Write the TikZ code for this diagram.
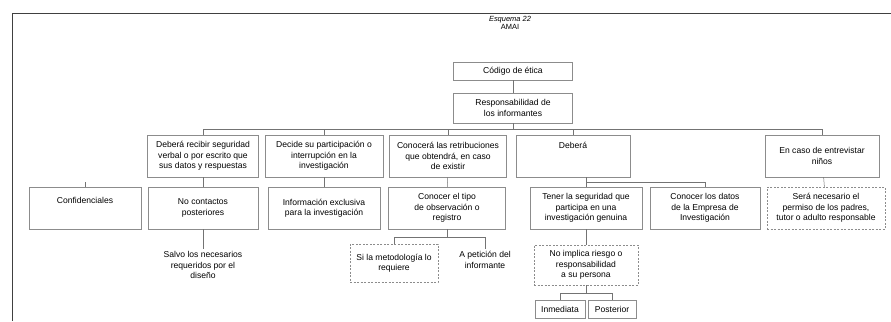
\documentclass[tikz,border=0pt]{standalone}
\usepackage{fontspec}
\setmainfont{Liberation Sans}
\begin{document}
\begin{tikzpicture}[x=1bp,y=-1bp,
        every node/.style={font=\fontsize{8.6}{10.5}\selectfont, align=center, inner sep=2bp},
        caja/.style 2 args={draw=black!45, line width=0.5bp, minimum width=#1, minimum height=#2},
        cajap/.style 2 args={caja={#1}{#2}, dash pattern=on 2bp off 1.5bp},
        sinborde/.style={inner sep=2bp},
        linea/.style={draw=black!55, line width=0.5bp},
        marco/.style={draw=black!75, line width=1bp}]
        \useasboundingbox (0,0) rectangle (891,321);
        \draw[marco] (12,321) -- (12,13) -- (891,13);

        \node[font=\fontsize{7.5}{8.5}\selectfont] (titulo) at (510,23) {\textit{Esquema 22}\\AMAI};
        \node[caja={119bp}{18bp}] (codigo) at (513,71) {Código de ética};
        \node[caja={119bp}{30bp}] (resp) at (513,108) {Responsabilidad de\\los informantes};
        \coordinate (bus1) at (513,129);

        \node[caja={111bp}{42bp}] (recibir) at (203,156) {Deberá recibir seguridad\\verbal o por escrito que\\sus datos y respuestas};
        \node[caja={118bp}{42bp}] (decide) at (324,156) {Decide su participación o\\interrupción en la\\investigación};
        \node[caja={117bp}{42bp}] (conocera) at (448,156) {Conocerá las retribuciones\\que obtendrá, en caso\\de existir};
        \node[caja={114bp}{0bp}, text height=11bp, text depth=27bp] (debera) at (573,156) {Deberá};
        \node[caja={114bp}{42bp}] (ninos) at (822,156) {En caso de entrevistar\\niños};

        \node[caja={112bp}{0bp}, text height=14bp, text depth=24bp] (conf) at (85,208) {Confidenciales};
        \coordinate (conf-arriba) at (85,182);
        \node[caja={110bp}{42bp}] (nocont) at (203,208) {No contactos\\posteriores};
        \node[caja={112bp}{42bp}] (info) at (324,208) {Información exclusiva\\para la investigación};
        \node[caja={117bp}{42bp}] (tipo) at (447,208) {Conocer el tipo\\de observación o\\registro};
        \node[caja={112bp}{42bp}] (tener) at (586,208) {Tener la seguridad que\\participa en una\\investigación genuina};
        \node[caja={110bp}{42bp}] (datos) at (705,208) {Conocer los datos\\de la Empresa de\\Investigación};
        \node[cajap={118bp}{42bp}] (sera) at (826,208) {Será necesario el\\permiso de los padres,\\tutor o adulto responsable};
        \coordinate (bus2) at (586,182);

        \node[sinborde] (salvo) at (203,265) {Salvo los necesarios\\requeridos por el\\diseño};
        \coordinate (bus3) at (447,237);
        \node[cajap={88bp}{38bp}] (metod) at (394,263) {Si la metodología lo\\requiere};
        \node[sinborde] (peticion) at (485,260) {A petición del\\informante};
        \node[cajap={104bp}{40bp}] (noimplica) at (586,265) {No implica riesgo o\\responsabilidad\\a su persona};
        \coordinate (bus4) at (586,293);
        \node[caja={50bp}{18bp}] (inmed) at (560,309) {Inmediata};
        \node[caja={48bp}{18bp}] (poster) at (612,309) {Posterior};

        \draw[linea] (codigo) -- (resp);
        \draw[linea] (resp) -- (bus1);
        \draw[linea] (bus1) -| (recibir.north); \draw[linea] (bus1) -| (decide.north);
        \draw[linea] (bus1) -| (conocera.north); \draw[linea] (bus1) -| (debera.north);
        \draw[linea] (bus1) -| (ninos.north);
        \draw[linea] (conf-arriba) -- (conf);
        \draw[linea] (recibir) -- (nocont); \draw[linea] (decide) -- (info);
        \draw[linea] (conocera) -- (tipo); \draw[linea] (ninos) -- (sera);
        \draw[linea] (debera.south -| bus2) -- (tener.north);
        \draw[linea] (bus2) -| (datos.north);
        \draw[linea] (nocont) -- (salvo);
        \draw[linea] (tipo) -- (bus3);
        \draw[linea] (bus3) -| (metod.north); \draw[linea] (bus3) -| (peticion.north);
        \draw[linea] (tener) -- (noimplica);
        \draw[linea] (noimplica) -- (bus4);
        \draw[linea] (bus4) -| (inmed.north); \draw[linea] (bus4) -| (poster.north);
\end{tikzpicture}
\end{document}
